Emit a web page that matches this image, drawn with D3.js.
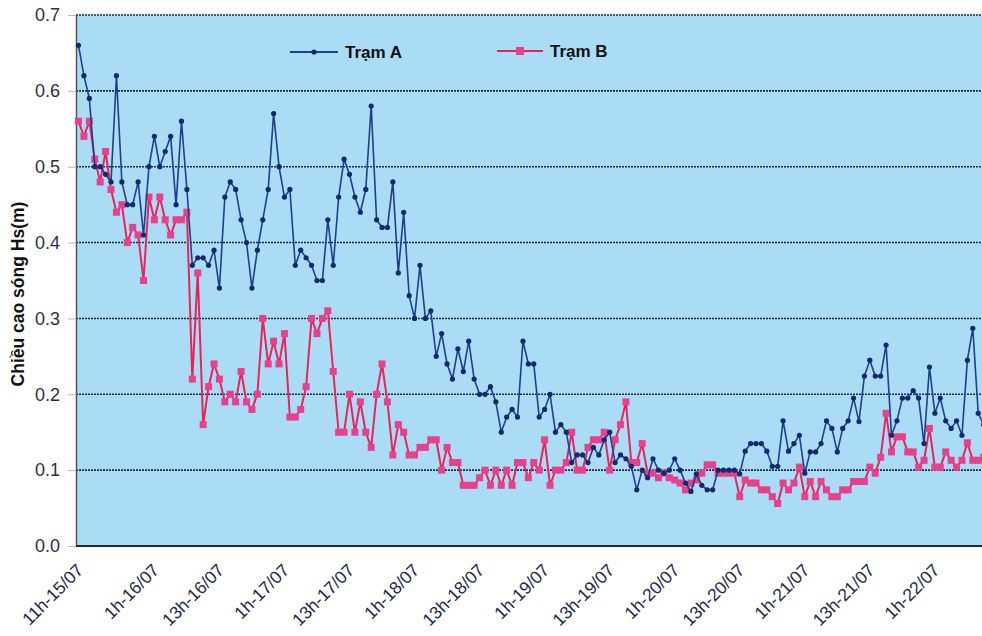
<!DOCTYPE html>
<html>
<head>
<meta charset="utf-8">
<script src="https://cdn.jsdelivr.net/npm/d3@7"></script>
<style>
  html, body { margin: 0; padding: 0; background: #ffffff; }
  svg { display: block; }
</style>
</head>
<body>
<svg id="chart" width="982" height="636"></svg>
<script>
// ---- data ----
const seriesNames = ["Trạm A", "Trạm B"];
const tickLabels = ["11h-15/07","1h-16/07","13h-16/07","1h-17/07","13h-17/07","1h-18/07","13h-18/07",
                    "1h-19/07","13h-19/07","1h-20/07","13h-20/07","1h-21/07","13h-21/07","1h-22/07"];
const yTicks = [0, 0.1, 0.2, 0.3, 0.4, 0.5, 0.6, 0.7];

const tramA = [
  0.66,0.62,0.59,0.50,0.50,0.49,0.48,0.62,0.48,0.45,
  0.45,0.48,0.41,0.50,0.54,0.50,0.52,0.54,0.45,0.56,
  0.47,0.37,0.38,0.38,0.37,0.39,0.34,0.46,0.48,0.47,
  0.43,0.40,0.34,0.39,0.43,0.47,0.57,0.50,0.46,0.47,
  0.37,0.39,0.38,0.37,0.35,0.35,0.43,0.37,0.46,0.51,
  0.49,0.46,0.44,0.47,0.58,0.43,0.42,0.42,0.48,0.36,
  0.44,0.33,0.30,0.37,0.30,0.31,0.25,0.28,0.24,0.22,
  0.26,0.23,0.27,0.22,0.20,0.20,0.21,0.19,0.15,0.17,
  0.18,0.17,0.27,0.24,0.24,0.17,0.18,0.20,0.15,0.16,
  0.15,0.11,0.12,0.12,0.11,0.13,0.12,0.14,0.15,0.11,
  0.12,0.115,0.105,0.074,0.10,0.09,0.115,0.10,0.096,0.10,
  0.115,0.10,0.083,0.072,0.095,0.08,0.074,0.074,0.10,0.10,
  0.10,0.10,0.095,0.125,0.135,0.135,0.135,0.125,0.105,0.105,
  0.165,0.125,0.135,0.146,0.096,0.124,0.124,0.135,0.165,0.155,
  0.124,0.155,0.165,0.195,0.164,0.224,0.245,0.224,0.224,0.265,
  0.146,0.165,0.195,0.195,0.205,0.195,0.135,0.236,0.175,0.195,
  0.165,0.155,0.165,0.146,0.245,0.287,0.175,0.16
];
const tramB = [
  0.56,0.54,0.56,0.51,0.48,0.52,0.47,0.44,0.45,0.40,
  0.42,0.41,0.35,0.46,0.43,0.46,0.43,0.41,0.43,0.43,
  0.44,0.22,0.36,0.16,0.21,0.24,0.22,0.19,0.20,0.19,
  0.23,0.19,0.18,0.20,0.30,0.24,0.27,0.24,0.28,0.17,
  0.17,0.18,0.21,0.30,0.28,0.30,0.31,0.23,0.15,0.15,
  0.20,0.15,0.19,0.15,0.13,0.20,0.24,0.19,0.12,0.16,
  0.15,0.12,0.12,0.13,0.13,0.14,0.14,0.10,0.13,0.11,
  0.11,0.08,0.08,0.08,0.09,0.10,0.08,0.10,0.08,0.10,
  0.08,0.11,0.11,0.09,0.11,0.10,0.14,0.08,0.10,0.10,
  0.11,0.15,0.10,0.10,0.13,0.14,0.14,0.15,0.10,0.14,
  0.16,0.19,0.11,0.11,0.135,0.096,0.096,0.09,0.096,0.09,
  0.087,0.083,0.074,0.083,0.087,0.096,0.107,0.107,0.096,0.096,
  0.096,0.096,0.065,0.087,0.083,0.083,0.074,0.074,0.065,0.056,
  0.083,0.074,0.083,0.104,0.065,0.085,0.065,0.085,0.074,0.065,
  0.065,0.074,0.074,0.085,0.085,0.085,0.104,0.096,0.117,0.175,
  0.124,0.144,0.144,0.124,0.124,0.104,0.113,0.155,0.104,0.104,
  0.124,0.113,0.104,0.113,0.136,0.113,0.113,0.117
];

// hourly categories starting 11h-15/07
const categories = tramA.map((_, i) => {
  const h = 11 + i;
  const day = 15 + Math.floor(h / 24);
  return (h % 24) + "h-" + day + "/07";
});

// ---- layout ----
const FONT = "Liberation Sans, Arial, sans-serif";
const svg = d3.select("#chart");
const plot = { left: 76, top: 15, bottom: 546 };
const x0 = 78.5, step = 5.42;

const x = d3.scalePoint()
  .domain(categories)
  .range([x0, x0 + step * (categories.length - 1)]);
const y = d3.scaleLinear().domain([0, 0.7]).range([plot.bottom, plot.top]);

// plot background
svg.append("rect")
  .attr("x", plot.left).attr("y", plot.top)
  .attr("width", 982 - plot.left).attr("height", plot.bottom - plot.top)
  .attr("fill", "#abdcf6");

// gridlines
svg.append("g")
  .selectAll("line")
  .data(yTicks.filter(d => d > 0))
  .join("line")
  .attr("x1", plot.left).attr("x2", 982)
  .attr("y1", d => y(d)).attr("y2", d => y(d))
  .attr("stroke", "#1c2a4a")
  .attr("stroke-width", 1.6)
  .attr("stroke-dasharray", "2,1");

// y axis
const yAxis = svg.append("g")
  .attr("transform", `translate(${plot.left},0)`)
  .call(d3.axisLeft(y).tickValues(yTicks).tickFormat(d3.format(".1f")).tickSize(8).tickSizeOuter(0));
yAxis.select(".domain").attr("stroke", "#555").attr("stroke-width", 1.5);
yAxis.selectAll(".tick line").attr("stroke", "#b8b8b8");
yAxis.selectAll("text")
  .attr("font-family", FONT)
  .attr("font-size", 18)
  .attr("fill", "#2b3048")
  .attr("x", -16);

// x axis
const xAxis = svg.append("g")
  .attr("transform", `translate(0,${plot.bottom})`)
  .call(d3.axisBottom(x).tickValues(tickLabels).tickSize(0).tickSizeOuter(0));
xAxis.select(".domain").attr("stroke", "#1c2a4a").attr("stroke-width", 2)
  .attr("d", `M${plot.left},0H982`);
xAxis.selectAll("text")
  .attr("font-family", FONT)
  .attr("font-size", 17.5)
  .attr("fill", "#1f2a4a")
  .attr("text-anchor", "end")
  .attr("dy", "0.35em")
  .attr("y", 0)
  .attr("transform", "translate(1,21) rotate(-45)");

// lines
const line = d3.line().x((d, i) => x(categories[i])).y(d => y(d));

svg.append("path").datum(tramB)
  .attr("d", line).attr("fill", "none")
  .attr("stroke", "#e8245a").attr("stroke-width", 2);
svg.append("g").selectAll("rect").data(tramB).join("rect")
  .attr("x", (d, i) => x(categories[i]) - 3.5)
  .attr("y", d => y(d) - 3.5)
  .attr("width", 7).attr("height", 7)
  .attr("fill", "#e8408a");

svg.append("path").datum(tramA)
  .attr("d", line).attr("fill", "none")
  .attr("stroke", "#1d3f8f").attr("stroke-width", 1.6);
svg.append("g").selectAll("circle").data(tramA).join("circle")
  .attr("cx", (d, i) => x(categories[i]))
  .attr("cy", d => y(d))
  .attr("r", 2.6)
  .attr("fill", "#13296b");

// legend
const lg = svg.append("g").attr("font-family", FONT)
  .attr("font-weight", "bold").attr("font-size", 17).attr("fill", "#111");
lg.append("line").attr("x1", 290).attr("x2", 338).attr("y1", 52).attr("y2", 52)
  .attr("stroke", "#1d3f8f").attr("stroke-width", 2);
lg.append("circle").attr("cx", 314).attr("cy", 52).attr("r", 2.6).attr("fill", "#13296b");
lg.append("text").attr("x", 345).attr("y", 58).text(seriesNames[0]);
lg.append("line").attr("x1", 497).attr("x2", 543).attr("y1", 51).attr("y2", 51)
  .attr("stroke", "#e8245a").attr("stroke-width", 2);
lg.append("rect").attr("x", 516).attr("y", 47).attr("width", 8).attr("height", 8).attr("fill", "#e8408a");
lg.append("text").attr("x", 550).attr("y", 57).text(seriesNames[1]);

// y title
svg.append("text")
  .attr("transform", "translate(24,294) rotate(-90)")
  .attr("text-anchor", "middle")
  .attr("font-family", FONT)
  .attr("font-weight", "bold").attr("font-size", 17.5).attr("fill", "#111")
  .text("Chiều cao sóng Hs(m)");
</script>
</body>
</html>
